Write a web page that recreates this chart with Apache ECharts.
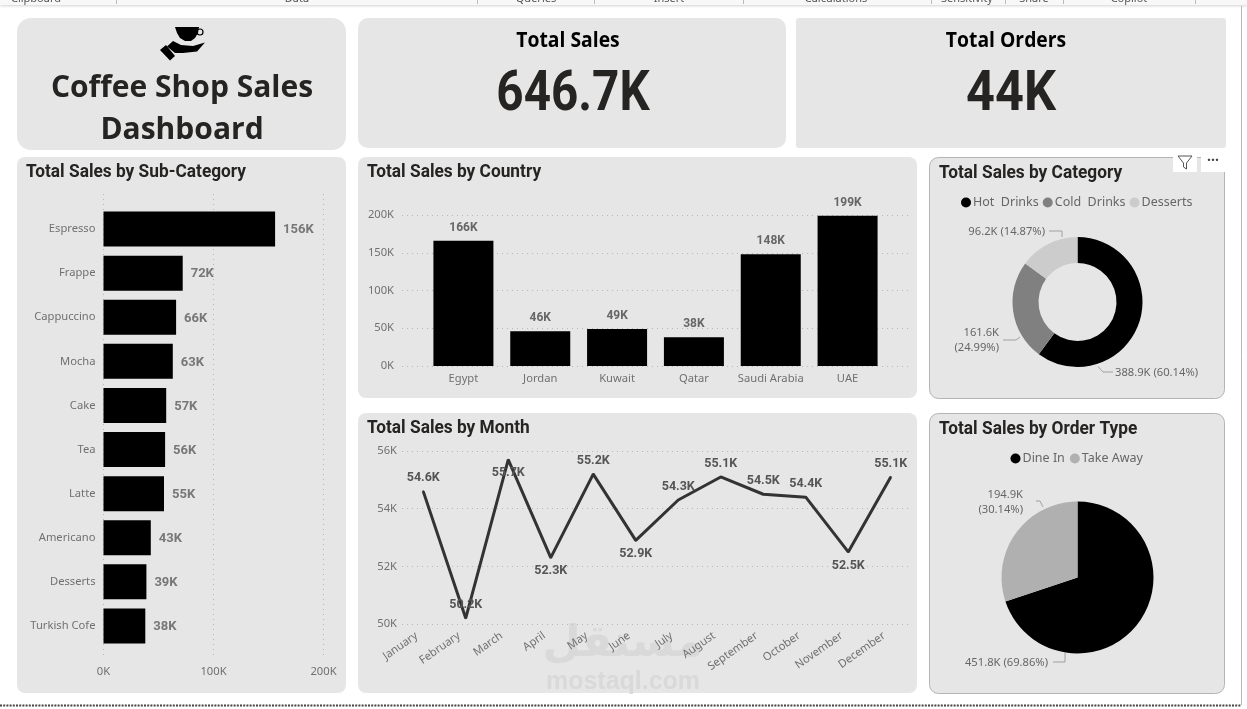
<!DOCTYPE html>
<html>
<head>
	<meta charset="UTF-8">
	<title>Coffee Shop Sales Dashboard</title>
	<style>
		html,body{margin:0;padding:0;background:#fff;}
		#main{width:1247px;height:709px;}
	</style>
</head>
<body>
	<div id="main"></div>
	<script src="https://cdn.jsdelivr.net/npm/echarts@6/dist/echarts.min.js"></script>
	<script type="text/javascript">
	// values in thousands
	var subCategories = ['Espresso','Frappe','Cappuccino','Mocha','Cake','Tea','Latte','Americano','Desserts','Turkish Cofe'];
	var subCategorySales = [156,72,66,63,57,56,55,43,39,38];

	var countries = ['Egypt','Jordan','Kuwait','Qatar','Saudi Arabia','UAE'];
	var countrySales = [166,46,49,38,148,199];

	var months = ['January','February','March','April','May','June','July','August','September','October','November','December'];
	var monthSales = [54.6,50.2,55.7,52.3,55.2,52.9,54.3,55.1,54.5,54.4,52.5,55.1];

	var categories = ['Hot  Drinks','Cold  Drinks','Desserts'];
	var categorySales = [388.9,161.6,96.2];
	var categoryShare = ['60.14','24.99','14.87'];

	var orderTypes = ['Dine In','Take Away'];
	var orderTypeSales = [451.8,194.9];
	var orderTypeShare = ['69.86','30.14'];

	var ribbonLabels = ['Clipboard','Data','Queries','Insert','Calculations','Sensitivity','Share','Copilot'];

	// label placement for the line chart, same order as months
	var monthLabelSide = ['top','top','bottom','bottom','top','bottom','top','top','top','top','bottom','top'];

	var FONT_AXIS = '"Noto Sans"';
	var FONT_DIN = 'Roboto';
	var GRID_LINE = {show:true,lineStyle:{color:'#b8b8b8',type:[1,4],width:1}};

	var chart = echarts.init(document.getElementById('main'));

	function panel(x,y,w,h,r,border){
		return {type:'rect',z:-10,shape:{x:x,y:y,width:w,height:h,r:r},
			style:{fill:'#e6e6e6',stroke:border?'#b4b4b4':null,lineWidth:border?1:0}};
	}
	function txt(str,x,y,font,color,align,scaleX,z){
		return {type:'text',z:z||5,x:x,y:y,scaleX:scaleX||1,style:{text:str,font:font,fill:color,align:align||'center',verticalAlign:'middle'}};
	}
	function sharp(x1,y1,x2,y2,color,dash,width){
		return {type:'line',z:-5,shape:{x1:x1,y1:y1,x2:x2,y2:y2},style:{stroke:color,lineWidth:width||1,lineDash:dash||null}};
	}
	function poly(points){
		return {type:'polygon',z:5,shape:{points:points},style:{fill:'#000'}};
	}

	var TITLE_FONT = 'bold 19px '+FONT_DIN;
	var TITLE_SCALE = 0.91;
	var elements = [
		{type:'rect',z:-9,shape:{x:0,y:0,width:1247,height:5},style:{fill:'#f8f8f8',shadowColor:'rgba(0,0,0,0.18)',shadowBlur:3,shadowOffsetY:1}},
		sharp(1241.5,6,1241.5,705,'#b8b8b8'),
		sharp(0,705.5,1241,705.5,'#444',[2,1.2],2),

		panel(17,18,329,132,14),
		panel(358,18,428,130,10),
		panel(796,18,430,130,3),
		panel(17,157,329,536,8),
		panel(358,157,559,241,8),
		panel(358,413,559,280,8),
		panel(929.5,157.5,295,241,9,true),
		panel(929.5,413.5,295,280,9,true),

		// cup in hand icon
		poly([[175,27],[199,27],[198,33],[195,38],[191,41],[185,41],[180,38],[177,33]]),
		{type:'circle',z:5,shape:{cx:200,cy:32,r:3},style:{fill:'none',stroke:'#000',lineWidth:1.2}},
		poly([[173,41],[181,45],[193,46],[205,42.5],[197,51.5],[183,53],[175,53],[167,46.5]]),
		poly([[160,50],[166,45],[175,56],[170,60.5]]),

		txt('Coffee Shop Sales',182,88.5,'bold 30px "Open Sans"','#252423'),
		txt('Dashboard',182,130,'bold 30px "Open Sans"','#252423'),
		txt('Total Sales',568,41,'bold 21px "Open Sans"','#000','center',0.92),
		txt('646.7K',573,95.5,'bold 56px '+FONT_DIN,'#252423','center',0.85),
		txt('Total Orders',1006,41,'bold 21px "Open Sans"','#000','center',0.92),
		txt('44K',1011,95.5,'bold 56px '+FONT_DIN,'#252423','center',0.9),

		txt('Total Sales by Sub-Category',26,172,TITLE_FONT,'#252423','left',TITLE_SCALE),
		txt('Total Sales by Country',367,172,TITLE_FONT,'#252423','left',TITLE_SCALE),
		txt('Total Sales by Month',367,428,TITLE_FONT,'#252423','left',TITLE_SCALE),
		txt('Total Sales by Category',939,173,TITLE_FONT,'#252423','left',TITLE_SCALE),
		txt('Total Sales by Order Type',939,429,TITLE_FONT,'#252423','left',TITLE_SCALE),

		// hover header of the category visual
		{type:'rect',z:6,shape:{x:1173,y:152,width:24,height:20},style:{fill:'#fff'}},
		{type:'rect',z:6,shape:{x:1201,y:152,width:25,height:20},style:{fill:'#fff'}},
		{type:'polygon',z:7,shape:{points:[[1178,156],[1192,156],[1186.5,163],[1186.5,169],[1183.5,167],[1183.5,163]]},style:{fill:'none',stroke:'#555',lineWidth:1}},
		txt('···',1213,161,'bold 14px "Noto Sans"','#444','center',1,8),

		// watermark sits under the axis labels
		txt('مستقل',623,645,'bold 44px "DejaVu Sans"','#d9d9d9','center',1,-4),
		txt('mostaql.com',623,682,'bold 25px "Liberation Sans"','#d9d9d9','center',1,-4)
	];

	// ribbon separators and cut off group names
	var ribbonCenters = [36,297,536,669,836,967,1034,1129];
	ribbonLabels.forEach(function(name,i){
		elements.push(txt(name,ribbonCenters[i],-1,'11px '+FONT_AXIS,'#555'));
	});
	[116.5,477.5,594.5,743.5,931.5,1005.5,1063.5,1195.5].forEach(function(x){
		elements.push(sharp(x,0,x,4,'#bbb'));
	});

	var axisText = {color:'#707070',fontFamily:FONT_AXIS,fontSize:11.2};
	var valueK = function(v){return v+'K';};
	var pieLine = {show:true,lineStyle:{color:'#a0a0a0',width:1}};
	var pieLabel = {color:'#666',fontFamily:FONT_AXIS,fontSize:11.2,lineHeight:15};

	var catLabelAt = [
		{x:1115,y:373,align:'left',points:[[1098,366.5],[1103,372],[1113,372]]},
		{x:999,y:340.5,align:'right',points:[[1020,337],[1016,340],[1003,340]]},
		{x:1045,y:232,align:'right',points:[[1062,237],[1062,231],[1049,231]]}
	];
	var orderLabelAt = [
		{x:1048,y:663,align:'right',points:[[1065,653],[1065,662],[1053,662]]},
		{x:1023,y:502,align:'right',points:[[1043,507],[1040,501],[1036,501]]}
	];
	function placeLabel(list){
		return function(p){
			var at = list[p.dataIndex];
			return {x:at.x,y:at.y,align:at.align,verticalAlign:'middle',labelLinePoints:at.points};
		};
	}

	var option = {
		animation:false,
		backgroundColor:'#fff',
		textStyle:{fontFamily:FONT_AXIS},
		graphic:{elements:elements},
		legend:[
			{data:categories,left:956,top:191,itemWidth:10,itemHeight:10,itemGap:4,icon:'circle',
				textStyle:{color:'#666',fontFamily:FONT_AXIS,fontSize:12.5,padding:[0,0,0,-3]}},
			{data:orderTypes,left:1005.5,top:447,itemWidth:10,itemHeight:10,itemGap:5,icon:'circle',
				textStyle:{color:'#666',fontFamily:FONT_AXIS,fontSize:12.5,padding:[0,0,0,-3]}}
		],
		grid:[
			{left:103.5,top:194,width:220,height:463},	// sub-category gridlines + ticks
			{left:103.5,top:207,width:220,height:441},	// sub-category bars
			{left:402,top:215,width:508,height:151},	// country gridlines + ticks
			{left:425,top:215,width:461,height:151},	// country bars
			{left:402,top:451,width:510,height:173}		// month line
		],
		xAxis:[
			{gridIndex:0,type:'value',min:0,max:200,interval:100,axisLabel:Object.assign({formatter:valueK,margin:9},axisText),
				splitLine:GRID_LINE,axisLine:{show:false},axisTick:{show:false}},
			{gridIndex:1,type:'value',min:0,max:200,show:false,splitLine:{show:false}},
			{gridIndex:2,type:'category',data:[],show:false},
			{gridIndex:3,type:'category',data:countries,axisLabel:Object.assign({margin:7,interval:0},axisText),
				axisLine:{show:false},axisTick:{show:false}},
			{gridIndex:4,type:'category',data:months,axisLabel:Object.assign({margin:6,interval:0,rotate:35,padding:[0,8,0,0]},axisText),
				axisLine:{show:false},axisTick:{show:false}}
		],
		yAxis:[
			{gridIndex:0,type:'category',data:[],show:false},
			{gridIndex:1,type:'category',data:subCategories,inverse:true,axisLabel:Object.assign({margin:8,interval:0,padding:[3,0,0,0]},axisText),
				axisLine:{show:false},axisTick:{show:false}},
			{gridIndex:2,type:'value',min:0,max:200,interval:50,axisLabel:Object.assign({formatter:valueK,margin:8},axisText),
				splitLine:GRID_LINE,axisLine:{show:false},axisTick:{show:false}},
			{gridIndex:3,type:'value',min:0,max:200,show:false,splitLine:{show:false}},
			{gridIndex:4,type:'value',min:50,max:56,interval:2,axisLabel:Object.assign({formatter:valueK,margin:5},axisText),
				splitLine:GRID_LINE,axisLine:{show:false},axisTick:{show:false}}
		],
		series:[
			{type:'bar',xAxisIndex:1,yAxisIndex:1,data:subCategorySales,barWidth:35,itemStyle:{color:'#000'},
				label:{show:true,position:'right',distance:8,offset:[0,1],formatter:function(p){return p.value+'K';},
					color:'#777',fontFamily:FONT_DIN,fontWeight:'bold',fontSize:13}},
			{type:'bar',xAxisIndex:3,yAxisIndex:3,data:countrySales,barWidth:60,itemStyle:{color:'#000'},
				label:{show:true,position:'top',distance:7,formatter:function(p){return p.value+'K';},
					color:'#666',fontFamily:FONT_DIN,fontWeight:'bold',fontSize:12}},
			{type:'line',xAxisIndex:4,yAxisIndex:4,symbol:'circle',symbolSize:2,itemStyle:{color:'#333'},lineStyle:{color:'#333',width:3},
				data:monthSales.map(function(v,i){
					return {value:v,label:{position:monthLabelSide[i]}};
				}),
				label:{show:true,distance:6,formatter:function(p){return p.value.toFixed(1)+'K';},
					color:'#555',fontFamily:FONT_DIN,fontWeight:'bold',fontSize:12.5}},
			{type:'pie',center:[1077.5,302],radius:[39,65],startAngle:90,clockwise:true,avoidLabelOverlap:false,
				data:categories.map(function(n,i){
					return {name:n,value:categorySales[i],itemStyle:{color:['#000','#808080','#cccccc'][i]}};
				}),
				label:Object.assign({formatter:function(p){
					var sep = p.dataIndex===1?'\n':' ';
					return p.value+'K'+sep+'('+categoryShare[p.dataIndex]+'%)';
				}},pieLabel),
				labelLine:pieLine,labelLayout:placeLabel(catLabelAt)},
			{type:'pie',center:[1077.5,577.5],radius:[0,76],startAngle:90,clockwise:true,avoidLabelOverlap:false,
				data:orderTypes.map(function(n,i){
					return {name:n,value:orderTypeSales[i],itemStyle:{color:['#000','#b0b0b0'][i]}};
				}),
				label:Object.assign({formatter:function(p){
					var sep = p.dataIndex===1?'\n':' ';
					return p.value+'K'+sep+'('+orderTypeShare[p.dataIndex]+'%)';
				}},pieLabel),
				labelLine:pieLine,labelLayout:placeLabel(orderLabelAt)}
		]
	};
	chart.setOption(option);
	</script>
</body>
</html>
